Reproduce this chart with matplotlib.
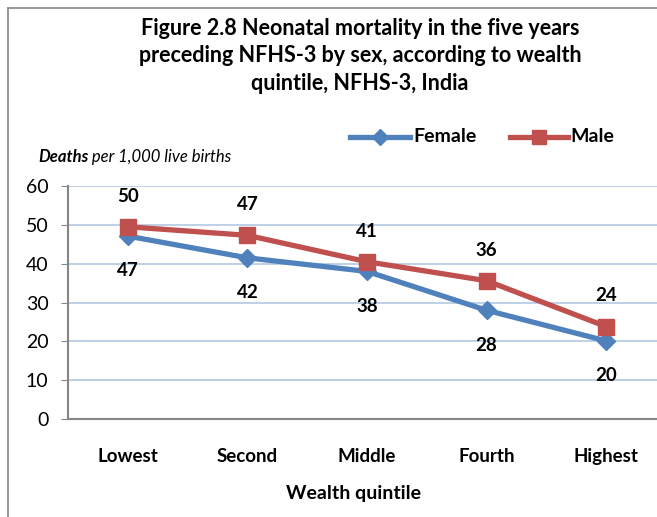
# Neonatal mortality by sex and wealth quintile, NFHS-3 India

import numpy as np
import matplotlib.pyplot as plt
from matplotlib.lines import Line2D

plt.rcParams['font.family'] = ['Lato', 'DejaVu Sans']

# Data ........................................................................
quintiles = ["Lowest", "Second", "Middle", "Fourth", "Highest"]
female = [47.1, 41.5, 38.0, 28.0, 20.1]
male = [49.5, 47.3, 40.5, 35.6, 23.8]
female_labels = ["47", "42", "38", "28", "20"]
male_labels = ["50", "47", "41", "36", "24"]

blue = "#4F81BD"
red = "#C0504D"

# Figure ......................................................................
W, H = 657, 517
fig = plt.figure(figsize=(W / 100, H / 100), dpi=100)

def px(x, y):
    return x / W, 1 - y / H

# chart frame (only left and top are visible in the crop)
fig.add_artist(Line2D([8 / W, 8 / W], [0, 1 - 8 / H], color="#888888", lw=1.2))
fig.add_artist(Line2D([8 / W, 1], [1 - 8 / H, 1 - 8 / H], color="#888888", lw=1.2))

left, right, top, bottom = 68, 666, 186, 419
ax = fig.add_axes([left / W, 1 - bottom / H, (right - left) / W, (bottom - top) / H])

x = np.arange(len(quintiles))
ax.plot(x, female, color=blue, lw=3.8, marker="D", ms=9, zorder=3)
ax.plot(x, male, color=red, lw=3.8, marker="s", ms=12, zorder=4)

for i in x:
    ax.annotate(male_labels[i], (i, male[i]), xytext=(0, 16), textcoords="offset points",
                ha="center", va="bottom", fontsize=13.5, fontweight="bold")
    ax.annotate(female_labels[i], (i, female[i]), xytext=(0, -19), textcoords="offset points",
                ha="center", va="top", fontsize=13.5, fontweight="bold")

ax.set_xlim(-0.5, 4.5)
ax.set_ylim(0, 60)
ax.set_yticks(range(0, 61, 10))
ax.set_xticks(x)
ax.set_xticklabels(quintiles, fontsize=13.5, fontweight="bold")
ax.tick_params(axis="x", length=0, pad=21)
ax.tick_params(axis="y", labelsize=14, length=5, color="#868686", pad=9)
ax.grid(axis="y", color="#B9CDE5", lw=1.3)
ax.set_axisbelow(True)
for s in ["top", "right"]:
    ax.spines[s].set_visible(False)
for s in ["left", "bottom"]:
    ax.spines[s].set_color("#868686")
    ax.spines[s].set_linewidth(1.5)

# Texts .......................................................................
title = ("Figure 2.8 Neonatal mortality in the five years\n"
         "preceding NFHS-3 by sex, according to wealth\n"
         "quintile, NFHS-3, India")
fig.text(*px(360, 56), title, ha="center", va="center", fontsize=15.5,
         fontweight="bold", linespacing=1.38)

t1 = fig.text(*px(38, 157), "Deaths", ha="left", va="center", fontsize=12,
              fontweight="bold", style="italic")
fig.canvas.draw()
bb = t1.get_window_extent()
fig.text(bb.x1 / W, 1 - 157 / H, " per 1,000 live births", ha="left", va="center",
         fontsize=12, style="italic")

fig.text(*px(353, 494), "Wealth quintile", ha="center", va="center",
         fontsize=14, fontweight="bold")

# legend
ly = 1 - 137 / H
fig.add_artist(Line2D([350 / W, 380 / W, 410 / W], [ly] * 3, color=blue, lw=3.8,
                      marker="D", ms=8, markevery=[1], transform=fig.transFigure))
fig.add_artist(Line2D([510 / W, 539 / W, 568 / W], [ly] * 3, color=red, lw=3.8,
                      marker="s", ms=10, markevery=[1], transform=fig.transFigure))
fig.text(*px(413, 137), "Female", ha="left", va="center", fontsize=14, fontweight="bold")
fig.text(*px(570, 137), "Male", ha="left", va="center", fontsize=14, fontweight="bold")

fig.savefig("out.png", dpi=100)
